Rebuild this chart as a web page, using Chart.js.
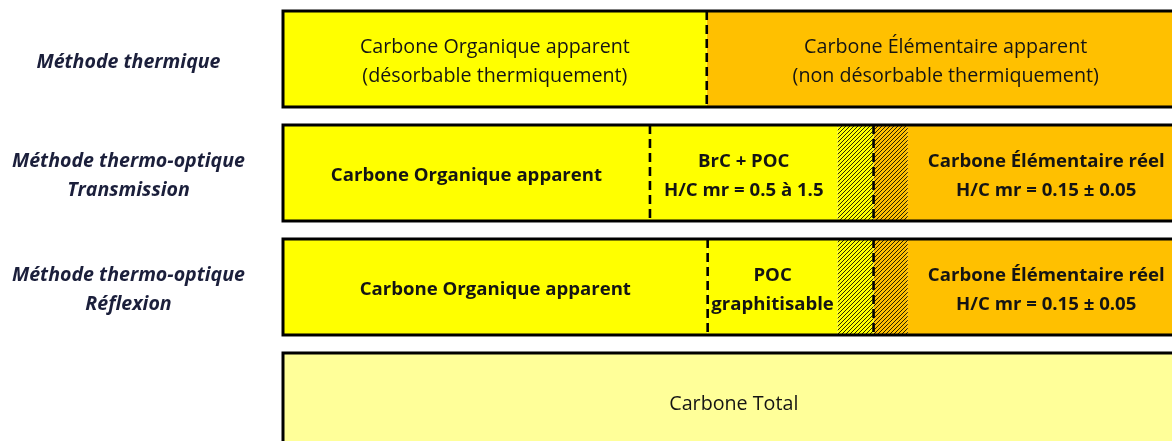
<!DOCTYPE html>
<html><head><meta charset="utf-8">
<script src="https://cdn.jsdelivr.net/npm/chart.js@4.4.1/dist/chart.umd.min.js"></script>
<style>html,body{margin:0;padding:0;background:#fff;overflow:hidden}canvas{display:block}</style>
</head><body>
<canvas id="c" width="1172" height="441"></canvas>
<script>
// ---- data ----
const rowLabels = [["Méthode thermique"], ["Méthode thermo-optique", "Transmission"], ["Méthode thermo-optique", "Réflexion"], [""]];
const segOC      = [47.0, 40.7, 47.1, 0];
const segMid     = [0, 20.8, 14.4, 0];
const segHatchOC = [0, 4.0, 4.0, 0];
const segHatchEC = [0, 3.8, 3.8, 0];
const segEC      = [53.0, 30.7, 30.7, 0];
const segTotal   = [0, 0, 0, 100];
const txtOC    = [["Carbone Organique apparent", "(désorbable thermiquement)"], ["Carbone Organique apparent"], ["Carbone Organique apparent"], null];
const txtMid   = [null, ["BrC + POC", "H/C mr = 0.5 à 1.5"], ["POC", "graphitisable"], null];
const txtEC    = [["Carbone Élémentaire apparent", "(non désorbable thermiquement)"], ["Carbone Élémentaire réel", "H/C mr = 0.15 ± 0.05"], ["Carbone Élémentaire réel", "H/C mr = 0.15 ± 0.05"], null];
const txtTotal = [null, null, null, ["Carbone Total"]];
const rowBold = [false, true, true, false];
const dashedBefore = [[4], [1, 3], [1, 3], []];

const FONT = '"Open Sans"';
const ctx = document.getElementById('c').getContext('2d');
function hatch(bg) {
  const c = document.createElement('canvas'); c.width = 4; c.height = 4;
  const g = c.getContext('2d');
  g.fillStyle = bg; g.fillRect(0, 0, 4, 4);
  g.strokeStyle = '#000'; g.lineWidth = 0.85;
  g.beginPath();
  g.moveTo(0, 4); g.lineTo(4, 0);
  g.moveTo(-1, 1); g.lineTo(1, -1);
  g.moveTo(3, 5); g.lineTo(5, 3);
  g.stroke();
  return ctx.createPattern(c, 'repeat');
}
const toPts = arr => arr.map((v, i) => ({ x: v, y: i }));
const YEL = '#FFFF00', ORA = '#FFC000', LIGHT = '#FFFF99';
const datasets = [
  { data: toPts(segOC), backgroundColor: YEL, segText: txtOC },
  { data: toPts(segMid), backgroundColor: YEL, segText: txtMid },
  { data: toPts(segHatchOC), backgroundColor: hatch(YEL), segText: null },
  { data: toPts(segHatchEC), backgroundColor: hatch(ORA), segText: null },
  { data: toPts(segEC), backgroundColor: ORA, segText: txtEC },
  { data: toPts(segTotal), backgroundColor: LIGHT, segText: txtTotal }
].map(d => Object.assign(d, { borderWidth: 0, categoryPercentage: 0.842, barPercentage: 1 }));

const overlay = {
  id: 'overlay',
  afterDatasetsDraw(chart) {
    const c = chart.ctx;
    for (let r = 0; r < rowLabels.length; r++) {
      let top = null, bottom = null, x0 = Infinity, x1 = -Infinity;
      chart.data.datasets.forEach((ds, di) => {
        const el = chart.getDatasetMeta(di).data[r];
        if (ds.data[r].x > 0) {
          top = el.y - el.height / 2; bottom = el.y + el.height / 2;
          x0 = Math.min(x0, el.base, el.x); x1 = Math.max(x1, el.base, el.x);
        }
      });
      if (top === null) continue;
      // texts
      c.save();
      c.fillStyle = '#141414';
      c.textAlign = 'center'; c.textBaseline = 'middle';
      c.font = (rowBold[r] ? 'bold 18.6px ' : '19.7px ') + FONT;
      chart.data.datasets.forEach((ds, di) => {
        const lines = ds.segText && ds.segText[r];
        if (!lines) return;
        const el = chart.getDatasetMeta(di).data[r];
        const cx = (el.x + el.base) / 2;
        const lh = 29;
        const y0 = el.y + 3 - (lines.length - 1) * lh / 2;
        lines.forEach((t, k) => c.fillText(t, cx, y0 + k * lh));
      });
      c.restore();
      // dashed dividers
      c.save();
      c.strokeStyle = '#000'; c.lineWidth = 2.6; c.setLineDash([9, 5]);
      dashedBefore[r].forEach(di => {
        const el = chart.getDatasetMeta(di).data[r];
        c.beginPath(); c.moveTo(el.base, top); c.lineTo(el.base, bottom); c.stroke();
      });
      c.restore();
      // outer border
      c.save();
      c.strokeStyle = '#000'; c.lineWidth = 3;
      c.strokeRect(x0, top, x1 - x0, bottom - top);
      c.restore();
    }
  }
};

new Chart(ctx, {
  type: 'bar',
  data: { datasets },
  plugins: [overlay],
  options: {
    indexAxis: 'y', responsive: false, animation: false,
    layout: { padding: 0 },
    plugins: { legend: { display: false }, tooltip: { enabled: false } },
    scales: {
      x: { type: 'linear', stacked: true, min: 0, max: 98.6, display: false },
      y: {
        type: 'linear', stacked: true, reverse: true, offset: false, min: -0.5175, max: 3.351,
        afterBuildTicks: s => { s.ticks = rowLabels.map((_, i) => ({ value: i })); },
        afterFit: s => { s.width = 283; s.paddingTop = 0; s.paddingBottom = 0; },
        grid: { display: false, offset: false }, border: { display: false },
        ticks: {
          autoSkip: false, crossAlign: 'center', padding: 30, labelOffset: 3,
          callback: v => rowLabels[v] || '',
          color: '#1b1f3b',
          font: { family: 'Open Sans', size: 19.6, weight: 'bold', style: 'italic', lineHeight: 1.48 }
        }
      }
    }
  }
});
</script>
</body></html>
